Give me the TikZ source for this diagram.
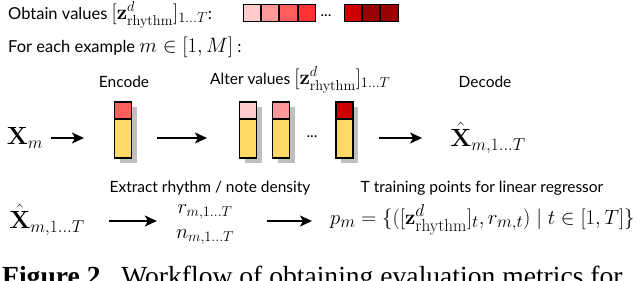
\documentclass[tikz,border=0pt]{standalone}
\usepackage[no-math]{fontspec}
\setmainfont{Lato}
\newfontfamily\capfont{Liberation Serif}
\usepackage{amsmath}
\usetikzlibrary{arrows.meta,shadows}
\definecolor{yel}{HTML}{FFD966}
\definecolor{rA}{HTML}{FFCCCC}
\definecolor{rB}{HTML}{FF9999}
\definecolor{rC}{HTML}{FF5C5C}
\definecolor{rD}{HTML}{FF3333}
\definecolor{rE}{HTML}{CC0000}
\definecolor{rF}{HTML}{990000}
\newcommand{\lm}[1]{{\fontsize{19.5}{22}\selectfont$#1$}}
\newcommand{\tm}[1]{{\fontsize{20.5}{24}\selectfont$#1$}}
\tikzset{
  lbl/.style={font=\fontsize{15.5}{18}\selectfont, inner sep=0pt},
  top/.style={font=\fontsize{16.5}{19}\selectfont, inner sep=0pt},
  mbig/.style={font=\fontsize{24}{28}\selectfont, inner sep=0pt},
  mmid/.style={font=\fontsize{21}{25}\selectfont, inner sep=0pt},
  mform/.style={font=\fontsize{22.8}{26}\selectfont, inner sep=0pt},
  arr/.style={line width=1.6pt, -{Stealth[length=12pt,width=11pt,inset=3pt]}},
  vec/.style={draw, line width=1.1pt, fill=yel, minimum width=17pt, minimum height=56pt, inner sep=0pt,
    drop shadow={shadow xshift=5pt, shadow yshift=-5pt, fill=black!25, opacity=1},
    path picture={\fill[#1] (path picture bounding box.north west) rectangle ([yshift=-17pt]path picture bounding box.north east);
      \draw[line width=1.1pt] ([yshift=-17pt]path picture bounding box.north west) -- ([yshift=-17pt]path picture bounding box.north east);}},
  sq/.style={draw, line width=1pt, fill=#1, minimum width=17.4pt, minimum height=17pt, inner sep=0pt},
}
\begin{document}
\begin{tikzpicture}[x=1pt,y=-1pt]
\useasboundingbox (0,0) rectangle (640,281);
% top rows
\node[top, anchor=west] (obt) at (8,15) {Obtain values \tm{[\mathbf{z}^d_{\mathrm{rhythm}}]_{1\dots T}}:};
\node[sq=rA] (s1) at (251.7,13) {};
\node[sq=rB, anchor=west] (s2) at (s1.east) {};
\node[sq=rC, anchor=west] (s3) at (s2.east) {};
\node[sq=rD, anchor=west] (s4) at (s3.east) {};
\node[lbl] (dots1) at (326,16) {...};
\node[sq=rE] (s5) at (352.7,13) {};
\node[sq=rF, anchor=west] (s6) at (s5.east) {};
\node[sq=rF, anchor=west] (s7) at (s6.east) {};
\node[top, anchor=west] (each) at (8,47) {For each example \tm{m\in[1,M]} :};
% labels
\node[lbl] (encl) at (124,82) {Encode};
\node[lbl, anchor=west] (altl) at (210,80) {Alter values \lm{[\mathbf{z}^d_{\mathrm{rhythm}}]_{1\dots T}}};
\node[lbl] (decl) at (485,82) {Decode};
% row 2
\node[mbig] (xm) at (25,138) {$\mathbf{X}_m$};
\node[vec=rC] (enc) at (123,130) {};
\node[vec=rA] (alt1) at (248,130) {};
\node[vec=rB] (alt2) at (281,130) {};
\node[lbl] (dots2) at (312,137) {...};
\node[vec=rE] (alt3) at (344.5,130) {};
\node[mbig] (xh) at (488,138) {$\hat{\mathbf{X}}_{m,1\dots T}$};
\draw[arr, shorten <=8pt, shorten >=30pt] (xm.east) -- (xm.east -| enc.west);
\draw[arr, shorten <=25pt, shorten >=32pt] (enc.east |- xm) -- (alt1.west |- xm);
\draw[arr, shorten <=25pt, shorten >=28pt] (alt3.east |- xm) -- (xh.west |- xm);
% row 3
\node[lbl] (extl) at (210,188) {Extract rhythm / note density};
\node[lbl] (trl) at (482,188) {T training points for linear regressor};
\node[mbig] (xh2) at (47,220) {$\hat{\mathbf{X}}_{m,1\dots T}$};
\node[mmid] (rn) at (205,221) {$\begin{array}{c} r_{m,1\dots T}\\ n_{m,1\dots T}\end{array}$};
\node[mform, anchor=west] (pm) at (330,220) {$p_m=\{([\mathbf{z}^d_{\mathrm{rhythm}}]_t,r_{m,t})\mid t\in[1,T]\}$};
\draw[arr, shorten <=24pt, shorten >=14pt] (xh2.east |- rn) -- (rn.west);
\draw[arr, shorten <=28pt, shorten >=18pt] (rn.east) -- (pm.west |- rn);
% caption
\node[font=\capfont\fontsize{27.6}{32}\selectfont, inner sep=0pt, anchor=base west] (cap) at (2,285) {\textbf{Figure 2.}\enspace Workflow of obtaining evaluation metrics for};
\end{tikzpicture}
\end{document}
